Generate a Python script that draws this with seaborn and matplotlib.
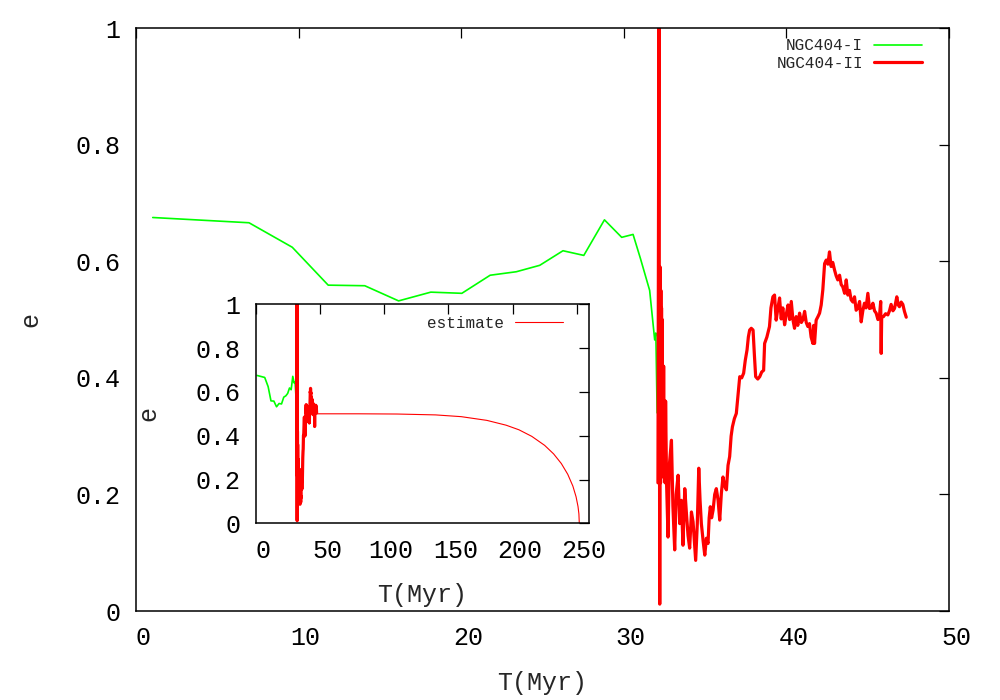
import matplotlib
matplotlib.use("Agg")
import matplotlib.pyplot as plt
import matplotlib.transforms as mtransforms
from matplotlib.ticker import FormatStrFormatter
import seaborn as sns
import pandas as pd

# ---------------- data ----------------
green_t = [1.03, 6.95, 9.61, 11.82, 14.07, 16.15, 18.13, 20.04, 21.78, 23.39,
           24.83, 26.26, 27.54, 28.81, 29.87, 30.57, 31.02, 31.59, 31.90, 31.97, 32.05]
green_e = [0.675, 0.666, 0.624, 0.559, 0.558, 0.532, 0.547, 0.545, 0.576, 0.582,
           0.593, 0.618, 0.610, 0.671, 0.641, 0.646, 0.605, 0.550, 0.465, 0.477, 0.340]

red_t = [32.10, 32.16, 32.21, 32.24, 32.26, 32.28, 32.30, 32.32, 32.34, 32.36,
         32.38, 32.40, 32.42, 32.45, 32.48, 32.51, 32.54, 32.57, 32.63,
         32.72, 32.80, 32.93, 33.02, 33.13, 33.22, 33.34, 33.44, 33.54,
         33.64, 33.75, 33.85, 33.95, 34.05, 34.16, 34.26, 34.34, 34.42, 34.52,
         34.61, 34.69, 34.77, 34.88, 34.98, 35.08, 35.18, 35.25, 35.32, 35.40,
         35.49, 35.59, 35.69, 35.80, 35.90, 36.00, 36.10, 36.20, 36.31, 36.41,
         36.51, 36.60, 36.68, 36.80, 36.92, 37.02, 37.13, 37.25, 37.37, 37.47,
         37.58, 37.66, 37.74, 37.84, 37.95, 38.03, 38.11, 38.24, 38.36, 38.48,
         38.60, 38.66, 38.80, 38.96, 39.05, 39.17, 39.27, 39.37, 39.48, 39.58,
         39.68, 39.78, 39.89, 40.00, 40.10, 40.20, 40.30, 40.40, 40.50, 40.60,
         40.70, 40.81, 40.92, 41.02, 41.12, 41.22, 41.32, 41.42, 41.52, 41.63,
         41.68, 41.73, 41.83, 41.94, 42.04, 42.14, 42.24, 42.35, 42.45, 42.55,
         42.65, 42.75, 42.85, 42.96, 43.06, 43.16, 43.27, 43.37, 43.47, 43.58,
         43.68, 43.78, 43.88, 43.98, 44.09, 44.19, 44.29, 44.40, 44.50, 44.60,
         44.70, 44.80, 44.90, 45.01, 45.11, 45.22, 45.32, 45.42, 45.52, 45.63,
         45.73, 45.80, 45.83, 45.86, 45.97, 46.10, 46.24, 46.34, 46.44, 46.55,
         46.65, 46.79, 46.88, 46.95, 47.06, 47.16, 47.26, 47.37]
red_e = [0.220, 1.020, 0.012, 0.590, 0.220, 0.550, 0.240, 0.520, 0.230, 0.500,
         0.260, 0.420, 0.240, 0.420, 0.250, 0.360, 0.220, 0.360, 0.220,
         0.127, 0.250, 0.293, 0.180, 0.105, 0.200, 0.233, 0.150, 0.190,
         0.113, 0.210, 0.168, 0.130, 0.108, 0.170, 0.153, 0.120, 0.087, 0.150,
         0.245, 0.190, 0.150, 0.120, 0.096, 0.125, 0.116, 0.160, 0.179, 0.160,
         0.173, 0.200, 0.210, 0.190, 0.156, 0.202, 0.230, 0.215, 0.208, 0.250,
         0.265, 0.300, 0.316, 0.330, 0.339, 0.370, 0.402, 0.400, 0.408, 0.430,
         0.448, 0.470, 0.482, 0.485, 0.482, 0.440, 0.402, 0.398, 0.402, 0.410,
         0.413, 0.459, 0.470, 0.488, 0.520, 0.539, 0.542, 0.499, 0.520, 0.537,
         0.501, 0.520, 0.491, 0.510, 0.525, 0.500, 0.531, 0.500, 0.485, 0.505,
         0.490, 0.511, 0.495, 0.500, 0.514, 0.495, 0.488, 0.493, 0.470, 0.459,
         0.490, 0.459, 0.499, 0.505, 0.511, 0.525, 0.551, 0.596, 0.602, 0.595,
         0.616, 0.591, 0.598, 0.585, 0.575, 0.568, 0.576, 0.560, 0.556, 0.545,
         0.568, 0.542, 0.550, 0.534, 0.530, 0.539, 0.516, 0.520, 0.531, 0.496,
         0.515, 0.528, 0.520, 0.545, 0.519, 0.520, 0.528, 0.515, 0.511, 0.500,
         0.508, 0.531, 0.442, 0.505, 0.505, 0.510, 0.508, 0.515, 0.526, 0.515,
         0.519, 0.539, 0.525, 0.522, 0.530, 0.526, 0.514, 0.504]

est_t = [47.4, 80, 110, 140, 160, 180, 195, 205, 215, 225, 232, 238, 243, 247,
         249.5, 251, 251.7, 252]
est_e = [0.500, 0.500, 0.499, 0.495, 0.487, 0.470, 0.448, 0.427, 0.397, 0.356,
         0.317, 0.273, 0.224, 0.170, 0.121, 0.077, 0.043, 0.0]

main_xticks = [0, 10, 20, 30, 40, 50]
inset_xticks = [0, 50, 100, 150, 200, 250]
yticks = [0, 0.2, 0.4, 0.6, 0.8, 1.0]

green_df = pd.DataFrame({"T": green_t, "e": green_e})
red_df = pd.DataFrame({"T": red_t, "e": red_e})
est_df = pd.DataFrame({"T": est_t, "e": est_e})

# ---------------- style ----------------
sns.set_style("white")
plt.rcParams["font.family"] = ["Liberation Mono", "DejaVu Sans Mono"]
plt.rcParams["axes.linewidth"] = 1.1
plt.rcParams["axes.edgecolor"] = "black"

GREEN = "#00ff00"
RED = "#ff0000"
FS = 18

fig = plt.figure(figsize=(10, 7), dpi=100)
ax = fig.add_axes([0.136, 0.127, 0.813, 0.833])


def style_axes(a, xticks, xmax, pad_px):
    a.set_xlim(0, xmax)
    a.set_ylim(0, 1)
    a.set_xticks(xticks)
    a.set_yticks(yticks)
    a.yaxis.set_major_formatter(FormatStrFormatter("%g"))
    a.xaxis.set_major_formatter(FormatStrFormatter("%g"))
    a.tick_params(direction="in", length=7, width=0.9, top=True, right=True,
                  labelsize=FS, colors="black", pad=pad_px)
    for s in a.spines.values():
        s.set_visible(True)
        s.set_color("black")
        s.set_linewidth(1.1)
    off = mtransforms.ScaledTranslation(7 / 100, 0, fig.dpi_scale_trans)
    for lab in a.get_xticklabels():
        lab.set_transform(lab.get_transform() + off)


# main plot
sns.lineplot(data=green_df, x="T", y="e", ax=ax, color=GREEN, lw=1.2,
             sort=False, estimator=None, label="NGC404-I")
sns.lineplot(data=red_df, x="T", y="e", ax=ax, color=RED, lw=2.3,
             sort=False, estimator=None, label="NGC404-II")
style_axes(ax, main_xticks, 50, 11)
ax.set_xlabel("T(Myr)", fontsize=FS)
ax.set_ylabel("e", fontsize=FS)
ax.xaxis.set_label_coords(0.5, -0.124)
ax.xaxis.label.set_va("center")
ax.yaxis.set_label_coords(-0.130, 0.5)
ax.yaxis.label.set_va("center")
ax.legend(loc="upper right", bbox_to_anchor=(0.975, 0.993), frameon=False,
          markerfirst=False, fontsize=11.5, handlelength=3.0,
          labelspacing=0.15, handletextpad=0.7, borderaxespad=0.0)

# inset
ins = fig.add_axes([0.2558, 0.2524, 0.3335, 0.3129])
ins.set_facecolor("white")
sns.lineplot(data=green_df, x="T", y="e", ax=ins, color=GREEN, lw=1.2,
             sort=False, estimator=None, legend=False)
sns.lineplot(data=red_df, x="T", y="e", ax=ins, color=RED, lw=2.3,
             sort=False, estimator=None, legend=False)
sns.lineplot(data=est_df, x="T", y="e", ax=ins, color=RED, lw=0.8,
             sort=False, estimator=None, label="estimate")
style_axes(ins, inset_xticks, 259.8, 11)
ins.set_xlabel("T(Myr)", fontsize=FS)
ins.set_ylabel("e", fontsize=FS)
ins.xaxis.set_label_coords(0.5, -0.327)
ins.xaxis.label.set_va("center")
ins.yaxis.set_label_coords(-0.323, 0.5)
ins.yaxis.label.set_va("center")
ins.legend(loc="upper right", bbox_to_anchor=(0.94, 0.977), frameon=False,
           markerfirst=False, fontsize=11.5, handlelength=3.0,
           handletextpad=0.7, borderaxespad=0.0)

fig.savefig("out.png", dpi=100)
